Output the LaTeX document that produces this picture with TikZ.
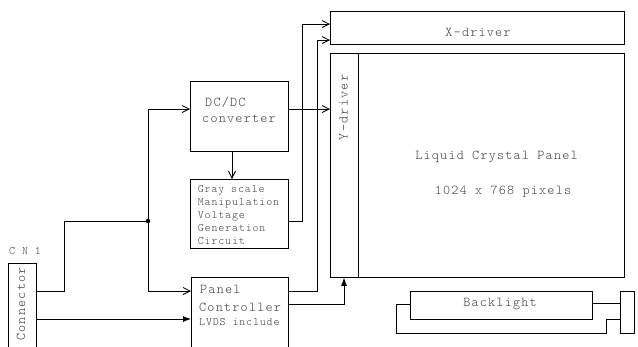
\documentclass[tikz,border=0pt]{standalone}
\usepackage{fontspec}
\newfontfamily\cour{Latin Modern Mono Light}[LetterSpace=9]
\newfontfamily\cours{Latin Modern Mono Light}[LetterSpace=7.5]
\usetikzlibrary{arrows.meta,calc}
\definecolor{txt}{gray}{0.25}
\begin{document}
\begin{tikzpicture}[x=1pt,y=-1pt,
  box/.style={draw, line width=0.8pt, inner sep=0pt, anchor=north west},
  big/.style={font=\fontsize{13.5}{16}\cour, text=txt, inner sep=0pt},
  small/.style={font=\fontsize{11.4}{13}\cours, text=txt, inner sep=0pt},
  wire/.style={line width=0.8pt},
  open/.style={-{Straight Barb[length=7pt,width=7pt,line width=0.8pt]}},
  solidtip/.style={-{Latex[length=8pt,width=6pt]}}]
\useasboundingbox (0,0) rectangle (638,346);
\clip (0,0) rectangle (638,346);
% level coordinates
\coordinate (L24) at (0,24);
\coordinate (L40) at (0,40);
\coordinate (L109) at (0,109);
\coordinate (L221) at (0,221);
\coordinate (L291) at (0,291);
\coordinate (L303) at (0,303);
\coordinate (L304) at (0,304);
\coordinate (L319) at (0,319);
\coordinate (L333) at (0,333);
\coordinate (X232) at (232,0);
\coordinate (X344) at (344,0);
\coordinate (X606) at (606,0);
% boxes
\node[box, minimum width=294pt, minimum height=33pt] (xdrv) at (330,11) {};
\node[big] (xdrvt) at (478,32) {X-driver};
\node[box, minimum width=294pt, minimum height=224pt] (panel) at (330,53) {};
\node[box, minimum width=28pt, minimum height=224pt] (ydrv) at (330,53) {};
\node[big, rotate=90] (ydrvt) at (343.5,107.5) {Y-driver};
\node[big] (lcp) at (496.5,157) {Liquid Crystal Panel};
\node[big] (res) at (503,192) {1024 x 768 pixels};
\node[box, minimum width=98pt, minimum height=70pt] (dcdc) at (190,81) {};
\node[big, align=left] (dcdct) at (239,110) {\hspace{3pt}DC/DC\\converter};
\node[box, minimum width=98pt, minimum height=69pt] (gray) at (190,179) {};
\node[small, align=left] (grayt) at (238.5,215) {Gray scale\\Manipulation\\Voltage\\Generation\\Circuit};
\node[box, minimum width=97pt, minimum height=90pt] (pc) at (191,277) {};
\node[big, anchor=west] (pct1) at (200,289) {Panel};
\node[big, anchor=west] (pct2) at (199,307) {Controller};
\node[small, anchor=west] (pct3) at (199,322) {LVDS include};
\node[box, minimum width=28pt, minimum height=100pt] (conn) at (8,263) {};
\node[big, rotate=90] (connt) at (21,304) {Connector};
\node[small] (cn1) at (25,251) {C N 1};
\node[box, minimum width=182pt, minimum height=28pt] (back) at (410,291) {};
\node[big] (backt) at (500,304) {Backlight};
\node[box, minimum width=14pt, minimum height=42pt] (bsm) at (620,291) {};
\node[circle, fill, inner sep=0pt, minimum size=4.5pt] (dot) at (148,221) {};
% connectors
\draw[wire] (conn.east |- L291) -- ++(28,0) |- (dot.center);
\draw[wire, open] (dot.center) |- (dcdc.west |- L109);
\draw[wire, open] (dot.center) |- (pc.west |- L291);
\draw[wire, solidtip] (conn.east |- L319) -- (pc.west |- L319);
\draw[wire, open] (dcdc.south -| X232) -- (gray.north -| X232);
\draw[wire, open] (dcdc.east |- L109) -- (ydrv.west |- L109);
\draw[wire, open] (gray.east |- L221) -- ++(14,0) |- (xdrv.west |- L24);
\draw[wire, open] (pc.east |- L291) -- ++(29,0) |- (xdrv.west |- L40);
\draw[wire, solidtip] (pc.east |- L304) -| (ydrv.south -| X344);
\draw[wire] (back.east |- L303) -- (bsm.west |- L303);
\draw[wire] (back.west |- L304) -- ++(-14,0) |- (X606 |- L333) |- (bsm.west |- L319);
\end{tikzpicture}
\end{document}
